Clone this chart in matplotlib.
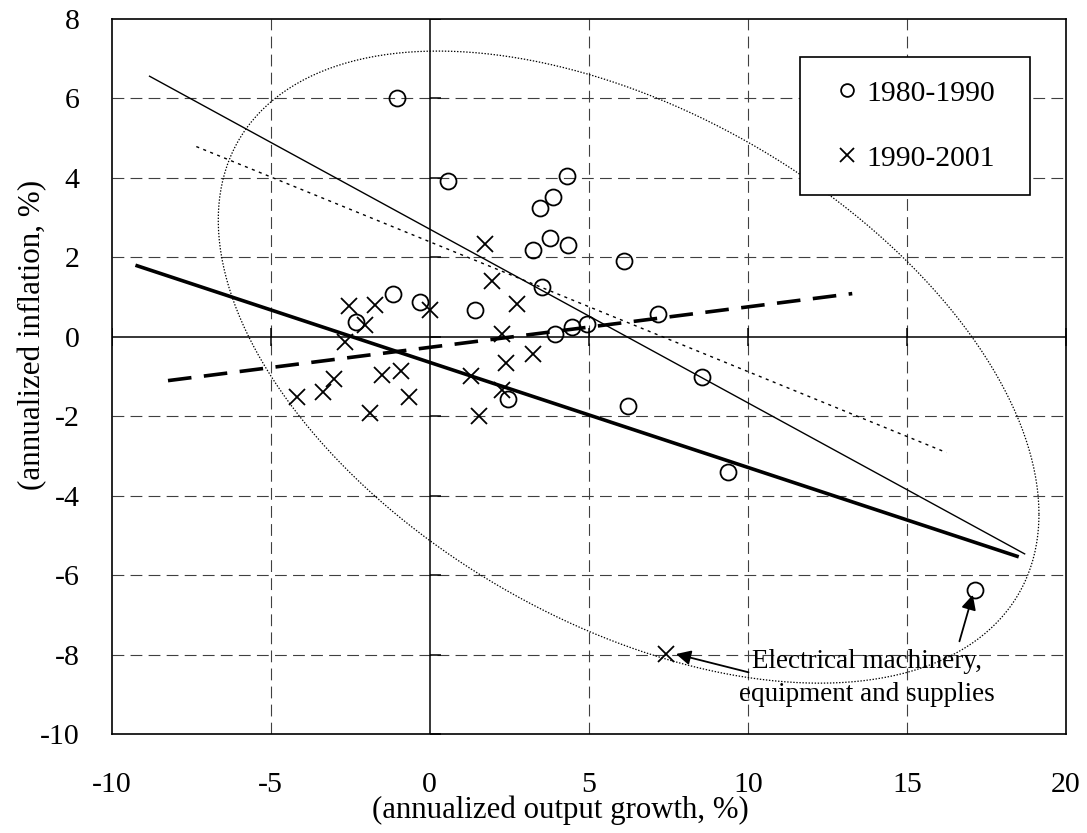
import numpy as np
import matplotlib
matplotlib.use("Agg")
import matplotlib.pyplot as plt

plt.rcParams["font.family"] = ["Liberation Serif", "DejaVu Serif"]
plt.rcParams["axes.unicode_minus"] = False
plt.rcParams["lines.scale_dashes"] = False

# ============================================================
# DATA
# ============================================================
# 1980-1990 (circles)
x_80s = [-1.04, 0.57, 4.30, 3.87, 3.45, 3.77, 3.24, 4.34, 3.52, -1.15, -0.31, 1.42,
         -2.32, 3.95, 4.48, 4.94, 2.46, 6.12, 7.16, 8.55, 6.22, 9.38, 17.15]
y_80s = [6.00, 3.93, 4.04, 3.51, 3.24, 2.50, 2.18, 2.32, 1.26, 1.07, 0.88, 0.67,
         0.38, 0.07, 0.25, 0.33, -1.56, 1.91, 0.57, -1.01, -1.75, -3.40, -6.38]

# 1990-2001 (crosses)
x_90s = [1.75, 1.95, 2.74, -2.55, -1.72, 0.00, -2.05, -2.66, 2.28, 2.39, 3.24,
         1.29, 2.28, 1.55, -0.91, -1.50, -0.66, -1.88, -3.00, -3.35, -4.18, 7.43]
y_90s = [2.35, 1.41, 0.82, 0.78, 0.80, 0.67, 0.31, -0.13, 0.08, -0.65, -0.44,
         -0.99, -1.33, -1.98, -0.86, -0.97, -1.52, -1.91, -1.06, -1.39, -1.52, -7.98]

# fitted trend lines (end points)
fit_thin_x, fit_thin_y = [-8.81, 18.70], [6.56, -5.46]
fit_thick_x, fit_thick_y = [-9.20, 18.46], [1.79, -5.52]
fit_dot_x, fit_dot_y = [-7.34, 16.24], [4.79, -2.91]
fit_dash_x, fit_dash_y = [-8.23, 13.28], [-1.10, 1.09]

# outline around the sample (centre, half-width, tilt terms)
ell_cx, ell_cy = 6.25, -0.76
ell_a, ell_c, ell_d = 12.9, -3.7, 7.04

xticks = [-10, -5, 0, 5, 10, 15, 20]
yticks = [-10, -8, -6, -4, -2, 0, 2, 4, 6, 8]

note_text = "Electrical machinery,\nequipment and supplies"
note_xy = (13.74, -8.58)
arrow_cross = ((10.02, -8.44), (7.74, -7.98))
arrow_circle = ((16.65, -7.66), (17.07, -6.49))

# ============================================================
# FIGURE
# ============================================================
W, H = 1087, 833
fig = plt.figure(figsize=(W / 100, H / 100), dpi=100)
ax = fig.add_axes([111.7 / W, 1 - 734.3 / H, (1066 - 111.7) / W, (734.3 - 19) / H])

ax.set_xlim(-10, 20)
ax.set_ylim(-10, 8)
ax.set_xticks(xticks)
ax.set_yticks(yticks)
ax.tick_params(length=0, labelsize=21.5)
ax.tick_params(axis="x", pad=27)
ax.tick_params(axis="y", pad=23)
for s in ax.spines.values():
    s.set_linewidth(1.2)

# grid
grid_kw = dict(color="#404040", lw=0.8, linestyle=(0, (8.5, 4.5)), zorder=1)
for gx in [-5, 5, 10, 15]:
    ax.axvline(gx, **grid_kw)
for gy in [-8, -6, -4, -2, 2, 4, 6]:
    ax.axhline(gy, **grid_kw)

# zero axes with their tick marks
ax.axhline(0, color="black", lw=1.1, zorder=2)
ax.axvline(0, color="black", lw=1.1, zorder=2)
ax.plot([t for t in xticks if t != 0], [0] * (len(xticks) - 1), linestyle="none",
        marker="|", markersize=13.5, markeredgewidth=1.1, color="black", zorder=2)
ax.plot([0] * len(yticks), yticks, linestyle="none",
        marker=1, markersize=8, markeredgewidth=1.1, color="black", zorder=2)

# outline around the sample
t = np.linspace(0, 2 * np.pi, 400)
ex = ell_cx + ell_a * np.cos(t)
ey = ell_cy + ell_c * np.cos(t) + ell_d * np.sin(t)
ax.plot(ex, ey, color="black", lw=0.9, linestyle=(0, (1, 1.2)), zorder=3)

# trend lines
ax.plot(fit_thin_x, fit_thin_y, color="black", lw=1.0, zorder=4)
ax.plot(fit_thick_x, fit_thick_y, color="black", lw=2.6, zorder=4)
ax.plot(fit_dot_x, fit_dot_y, color="black", lw=1.0, linestyle=(0, (2.2, 3.2)), zorder=4)
ax.plot(fit_dash_x, fit_dash_y, color="black", lw=2.6, linestyle=(0, (17, 9)), zorder=4)

# scatter points
ax.plot(x_80s, y_80s, linestyle="none", marker="o", markersize=11.5,
        markerfacecolor="none", markeredgecolor="black", markeredgewidth=1.3,
        label="1980-1990", zorder=5)
ax.plot(x_90s, y_90s, linestyle="none", marker="x", markersize=12,
        color="black", markeredgewidth=1.3, label="1990-2001", zorder=5)

# annotation
ax.text(note_xy[0], note_xy[1], note_text, ha="center", va="center",
        fontsize=19.5, linespacing=1.45, zorder=6)
for start, end in [arrow_cross, arrow_circle]:
    ax.annotate("", xy=end, xytext=start,
                arrowprops=dict(arrowstyle="-|>", color="black", lw=1.3,
                                mutation_scale=22, shrinkA=0, shrinkB=0),
                zorder=6)

leg = ax.legend(loc="upper left", bbox_to_anchor=(0.7213, 0, 0.2413, 0.9469),
                mode="expand", borderaxespad=0, fontsize=21.3, frameon=True,
                fancybox=False, edgecolor="black", framealpha=1,
                borderpad=0.78, labelspacing=1.29, handlelength=1.62,
                handletextpad=-0.17, markerscale=0.8)
leg.get_frame().set_linewidth(1.2)

fig.text(560 / W, 1 - 810 / H, "(annualized output growth, %)", fontsize=22.2,
         ha="center", va="center")
fig.text(33 / W, 1 - 335 / H, "(annualized inflation, %)", fontsize=22.4,
         ha="center", va="center", rotation=90)

fig.savefig("out.png", dpi=100)
